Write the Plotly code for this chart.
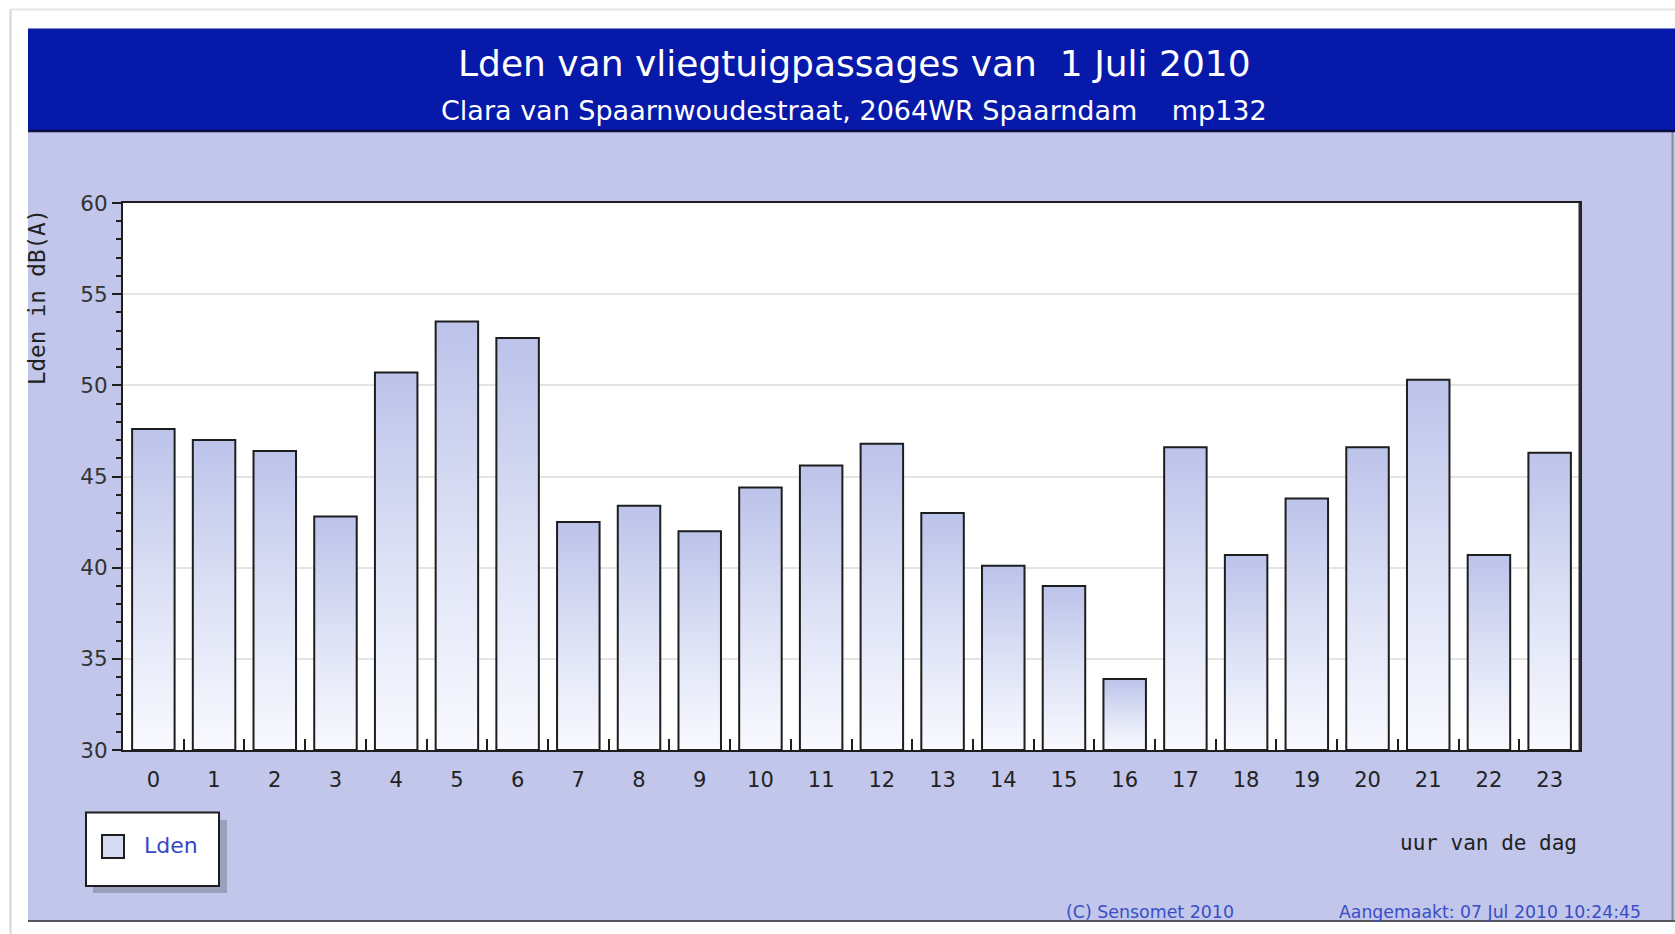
import plotly.graph_objects as go

# ---- data ----
hours = list(range(24))
hour_labels = [str(h) for h in hours]
lden = [47.6, 47.0, 46.4, 42.8, 50.7, 53.5, 52.6, 42.5, 43.4, 42.0, 44.4, 45.6,
        46.8, 43.0, 40.1, 39.0, 33.9, 46.6, 40.7, 43.8, 46.6, 50.3, 40.7, 46.3]
y_ticks = [30, 35, 40, 45, 50, 55, 60]

title_text = "Lden van vliegtuigpassages van \u00a01 Juli 2010"
subtitle_text = "Clara van Spaarnwoudestraat, 2064WR Spaarndam \u00a0\u00a0\u00a0mp132"

# ---- geometry helpers (pixel -> paper) ----
W, H = 1675, 934
L, R, T, B = 123, 1580, 203, 750
PW, PH = R - L, B - T


def px(x):
    return (x - L) / PW


def py(y):
    return (B - y) / PH


Y0 = 30
HALF = 0.35

fig = go.Figure()

for h, v in zip(hours, lden):
    fig.add_trace(go.Scatter(
        x=[h - HALF, h - HALF, h + HALF, h + HALF, h - HALF],
        y=[Y0, v, v, Y0, Y0],
        mode="lines",
        fill="toself",
        fillgradient=dict(type="vertical",
                          colorscale=[[0, "#f9faff"], [0.5, "#dde1f5"], [1, "#bcc3ea"]]),
        line=dict(color="#1e1e1e", width=2),
        showlegend=False,
        hoverinfo="skip",
        name="Lden",
    ))

shapes = []
# outer frame faint lines
shapes.append(dict(type="line", xref="paper", yref="paper", x0=px(10.5), x1=px(10.5),
                   y0=py(9), y1=py(934), line=dict(color="#d4d4d4", width=2), layer="below"))
shapes.append(dict(type="line", xref="paper", yref="paper", x0=px(10), x1=px(1675),
                   y0=py(9.5), y1=py(9.5), line=dict(color="#e6e6e6", width=2), layer="below"))
# lavender panel
shapes.append(dict(type="rect", xref="paper", yref="paper", x0=px(28), x1=px(1675),
                   y0=py(921), y1=py(131), fillcolor="#c1c6ea", line=dict(width=0), layer="below"))
# panel right & bottom border
shapes.append(dict(type="line", xref="paper", yref="paper", x0=px(1672.5), x1=px(1672.5),
                   y0=py(131), y1=py(921), line=dict(color="#8a8a9a", width=2), layer="below"))
shapes.append(dict(type="line", xref="paper", yref="paper", x0=px(28), x1=px(1675),
                   y0=py(921), y1=py(921), line=dict(color="#55565e", width=2), layer="below"))
# blue banner
shapes.append(dict(type="rect", xref="paper", yref="paper", x0=px(28), x1=px(1675),
                   y0=py(131), y1=py(28.5), fillcolor="#0719a9", line=dict(width=0), layer="below"))
shapes.append(dict(type="line", xref="paper", yref="paper", x0=px(28), x1=px(1675),
                   y0=py(131), y1=py(131), line=dict(color="#0a0f40", width=2.5), layer="below"))
# white plot area
shapes.append(dict(type="rect", xref="paper", yref="paper", x0=0, x1=1, y0=0, y1=1,
                   fillcolor="#ffffff", line=dict(width=0), layer="below"))
# legend shadow, box, symbol
shapes.append(dict(type="rect", xref="paper", yref="paper", x0=px(93), x1=px(227),
                   y0=py(893), y1=py(820), fillcolor="#9a9fbc", line=dict(width=0), layer="below"))
shapes.append(dict(type="rect", xref="paper", yref="paper", x0=px(86), x1=px(219),
                   y0=py(886), y1=py(812.5), fillcolor="#ffffff",
                   line=dict(color="#1e1e1e", width=2), layer="below"))
shapes.append(dict(type="rect", xref="paper", yref="paper", x0=px(102), x1=px(124),
                   y0=py(858), y1=py(835), fillcolor="#d6daf3",
                   line=dict(color="#1e1e1e", width=2), layer="below"))
# right plot border a bit heavier
shapes.append(dict(type="line", xref="paper", yref="paper", x0=1, x1=1, y0=0, y1=1,
                   line=dict(color="#2a2a2a", width=3), layer="above"))

annotations = [
    dict(text=title_text, xref="paper", yref="paper", x=px(854), y=py(64),
         xanchor="center", yanchor="middle", showarrow=False,
         font=dict(family="DejaVu Sans", size=36, color="#ffffff")),
    dict(text=subtitle_text, xref="paper", yref="paper", x=px(854), y=py(111),
         xanchor="center", yanchor="middle", showarrow=False,
         font=dict(family="DejaVu Sans", size=27, color="#ffffff")),
    dict(text="Lden in dB(A)", xref="paper", yref="paper", x=px(37), y=py(207),
         xanchor="center", yanchor="top", textangle=-90, showarrow=False,
         font=dict(family="DejaVu Sans Mono", size=22.5, color="#222222")),
    dict(text="uur van de dag", xref="paper", yref="paper", x=px(1579), y=py(843),
         xanchor="right", yanchor="middle", showarrow=False,
         font=dict(family="DejaVu Sans Mono", size=21, color="#222222")),
    dict(text="Lden", xref="paper", yref="paper", x=px(142), y=py(846),
         xanchor="left", yanchor="middle", showarrow=False,
         font=dict(family="DejaVu Sans", size=22, color="#3448c8")),
    dict(text="(C) Sensomet 2010", xref="paper", yref="paper", x=px(1150), y=py(912),
         xanchor="center", yanchor="middle", showarrow=False,
         font=dict(family="DejaVu Sans", size=17.4, color="#3a4ec6")),
    dict(text="Aangemaakt: 07 Jul 2010 10:24:45", xref="paper", yref="paper", x=px(1643), y=py(912),
         xanchor="right", yanchor="middle", showarrow=False,
         font=dict(family="DejaVu Sans", size=17.3, color="#3a4ec6")),
]

fig.update_layout(
    width=W, height=H,
    margin=dict(l=L, r=W - R, t=T, b=H - B, pad=0),
    paper_bgcolor="#ffffff",
    plot_bgcolor="#ffffff",
    showlegend=False,
    shapes=shapes,
    annotations=annotations,
    xaxis=dict(
        range=[-0.5, 23.5],
        tickmode="array", tickvals=hours, ticktext=hour_labels,
        ticks="", showgrid=False, zeroline=False,
        showline=True, linecolor="#1e1e1e", linewidth=2, mirror=True,
        tickfont=dict(family="DejaVu Sans", size=21, color="#222222"),
        ticklabelstandoff=10,
        minor=dict(tickmode="array", tickvals=[h + 0.5 for h in hours[:-1]],
                   ticks="inside", ticklen=11, tickwidth=2, tickcolor="#1e1e1e", showgrid=False),
        fixedrange=True,
    ),
    yaxis=dict(
        range=[30, 60],
        tickmode="array", tickvals=y_ticks, ticktext=[str(t) for t in y_ticks],
        ticks="outside", ticklen=9, tickwidth=2, tickcolor="#1e1e1e",
        showgrid=True, gridcolor="#e4e4e4", gridwidth=2, zeroline=False,
        showline=True, linecolor="#1e1e1e", linewidth=2, mirror=True,
        tickfont=dict(family="DejaVu Sans", size=21.5, color="#333333"),
        minor=dict(dtick=1, ticks="outside", ticklen=5, tickwidth=1.5, tickcolor="#1e1e1e",
                   showgrid=False),
        fixedrange=True,
    ),
)

fig.write_html("out.html", config={"displayModeBar": False},
               post_script="document.body.style.margin='0';document.body.style.overflow='hidden';")
